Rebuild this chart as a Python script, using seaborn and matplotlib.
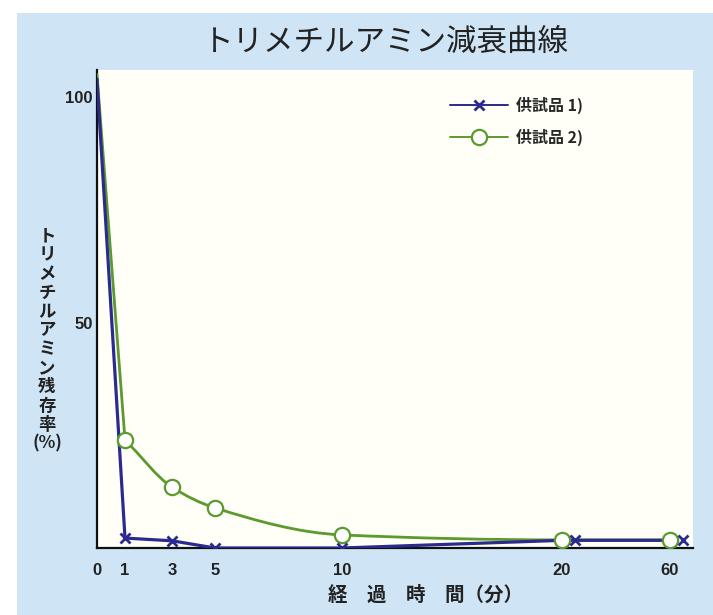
import numpy as np
import pandas as pd
import matplotlib
matplotlib.use("Agg")
import matplotlib.pyplot as plt
import matplotlib.transforms as mtransforms
import seaborn as sns
from matplotlib.lines import Line2D
from matplotlib.patches import Rectangle, PathPatch
from matplotlib.path import Path

# data
times = [0, 1, 3, 5, 10, 20, 60]
sample1 = [104, 2.2, 1.6, 0.0, 0.0, 1.7, 1.7]
sample2 = [105, 24.0, 13.5, 8.9, 2.9, 1.8, 1.8]
series_names = ["供試品 1)", "供試品 2)"]
x_ticks = [0, 1, 3, 5, 10, 20, 60]
y_ticks = [50, 100]

# broken time axis: where each tick sits along the axis
tick_pos = [0, 28, 75, 118, 245, 465, 573]

BLUE = "#2b2a8e"
GREEN = "#5b9a2c"
BG = "#cfe5f5"
PANEL = "#fffff8"
NUM_FONT = ["Liberation Sans", "DejaVu Sans"]


def smooth_path(xs, ys):
    """Monotone cubic (Fritsch-Carlson) curve as Bezier segments."""
    xs = np.asarray(xs, float)
    ys = np.asarray(ys, float)
    h = np.diff(xs)
    d = np.diff(ys) / h
    m = np.zeros(len(xs))
    m[0], m[-1] = d[0], d[-1]
    for i in range(1, len(xs) - 1):
        if d[i - 1] * d[i] <= 0:
            m[i] = 0
        else:
            w1 = 2 * h[i] + h[i - 1]
            w2 = h[i] + 2 * h[i - 1]
            m[i] = (w1 + w2) / (w1 / d[i - 1] + w2 / d[i])
    verts = [(xs[0], ys[0])]
    codes = [Path.MOVETO]
    for i in range(len(xs) - 1):
        verts += [(xs[i] + h[i] / 3, ys[i] + m[i] * h[i] / 3),
                  (xs[i + 1] - h[i] / 3, ys[i + 1] - m[i + 1] * h[i] / 3),
                  (xs[i + 1], ys[i + 1])]
        codes += [Path.CURVE4] * 3
    return Path(verts, codes)


sns.set_theme(style="white")
plt.rcParams["font.family"] = ["Noto Sans CJK JP", "DejaVu Sans"]

fig = plt.figure(figsize=(7.13, 6.15), dpi=100)
fig.patch.set_facecolor("white")
fig.patches.append(Rectangle((17 / 713, 0), 1, 1 - 13 / 615, transform=fig.transFigure,
                             facecolor=BG, edgecolor="none", zorder=-10))

ax = fig.add_axes([97 / 713, 1 - 548 / 615, (693 - 97) / 713, (548 - 70) / 615])
ax.set_facecolor(PANEL)

df = pd.DataFrame({
    "t": times * 2,
    "value": sample1 + sample2,
    "series": [series_names[0]] * len(times) + [series_names[1]] * len(times),
})
df["pos"] = np.interp(df["t"], x_ticks, tick_pos)
s1 = df[df["series"] == series_names[0]]
s2 = df[df["series"] == series_names[1]]

# sample 1: straight segments
sns.lineplot(data=s1, x="pos", y="value", color=BLUE, linewidth=2.3,
             legend=False, ax=ax, zorder=4)

# sample 2: steep drop to the first reading, then a smooth decay curve
sns.lineplot(data=s2.iloc[:2], x="pos", y="value", color=GREEN, linewidth=2.0,
             legend=False, ax=ax, zorder=3)
ax.add_patch(PathPatch(smooth_path(s2["pos"].iloc[1:], s2["value"].iloc[1:]),
                       facecolor="none", edgecolor=GREEN, linewidth=2.0, zorder=3))

# markers (none at t=0)
g = s2[s2["t"] > 0]
ax.plot(g["pos"], g["value"], linestyle="none", marker="o", markersize=11,
        markerfacecolor="white", markeredgecolor=GREEN, markeredgewidth=1.6, zorder=5)

b = s1[s1["t"] > 0]
b_near = b[b["t"] < 20]
b_far = b[b["t"] >= 20]
ax.plot(b_near["pos"], b_near["value"], linestyle="none", marker="x", markersize=7.5,
        markeredgecolor=BLUE, markeredgewidth=2, zorder=6)
shift = mtransforms.offset_copy(ax.transData, fig=fig, x=13, y=0, units="dots")
ax.plot(b_far["pos"], b_far["value"], linestyle="none", marker="x", markersize=7.5,
        markeredgecolor=BLUE, markeredgewidth=2, zorder=6, transform=shift)

ax.set_xlim(0, 596)
ax.set_ylim(0, 106)
ax.set_xticks(tick_pos)
ax.set_xticklabels([str(v) for v in x_ticks], fontsize=12, fontweight="bold",
                   family=NUM_FONT, color="#222222")
ax.set_yticks(y_ticks)
ax.set_yticklabels([str(v) for v in y_ticks], fontsize=12, fontweight="bold",
                   family=NUM_FONT, color="#222222")
ax.tick_params(axis="x", length=0, pad=11)
ax.tick_params(axis="y", length=0, pad=3)
ax.set_xlabel("")
ax.set_ylabel("")

for side in ["top", "right"]:
    ax.spines[side].set_visible(False)
for side in ["left", "bottom"]:
    ax.spines[side].set_color("#111111")
    ax.spines[side].set_linewidth(1.6)

handles = [
    Line2D([], [], color=BLUE, linewidth=1.4, marker="x", markersize=7.5,
           markeredgewidth=2),
    Line2D([], [], color=GREEN, linewidth=1.4, marker="o", markersize=11,
           markerfacecolor="white", markeredgewidth=1.6),
]
leg = fig.legend(handles, series_names, loc="upper left",
                 bbox_to_anchor=(436 / 713, 1 - 82 / 615), frameon=False,
                 handlelength=3.6, handletextpad=0.5, labelspacing=0.95,
                 prop={"size": 11.5, "weight": "bold"})

fig.text(386 / 713, 1 - 42 / 615, "トリメチルアミン減衰曲線", fontsize=22,
         ha="center", va="center", color="#222222")

ylab = "\n".join(list("トリメチルアミン残存率") + ["(%)"])
fig.text(47 / 713, 1 - 340 / 615, ylab, fontsize=12.5, fontweight="bold",
         ha="center", va="center", linespacing=1.06, color="#222222")

fig.text(425 / 713, 1 - 595 / 615, "経　過　時　間（分）", fontsize=14,
         fontweight="bold", ha="center", va="center", color="#222222")

fig.savefig("out.png", dpi=100, facecolor=fig.get_facecolor())
